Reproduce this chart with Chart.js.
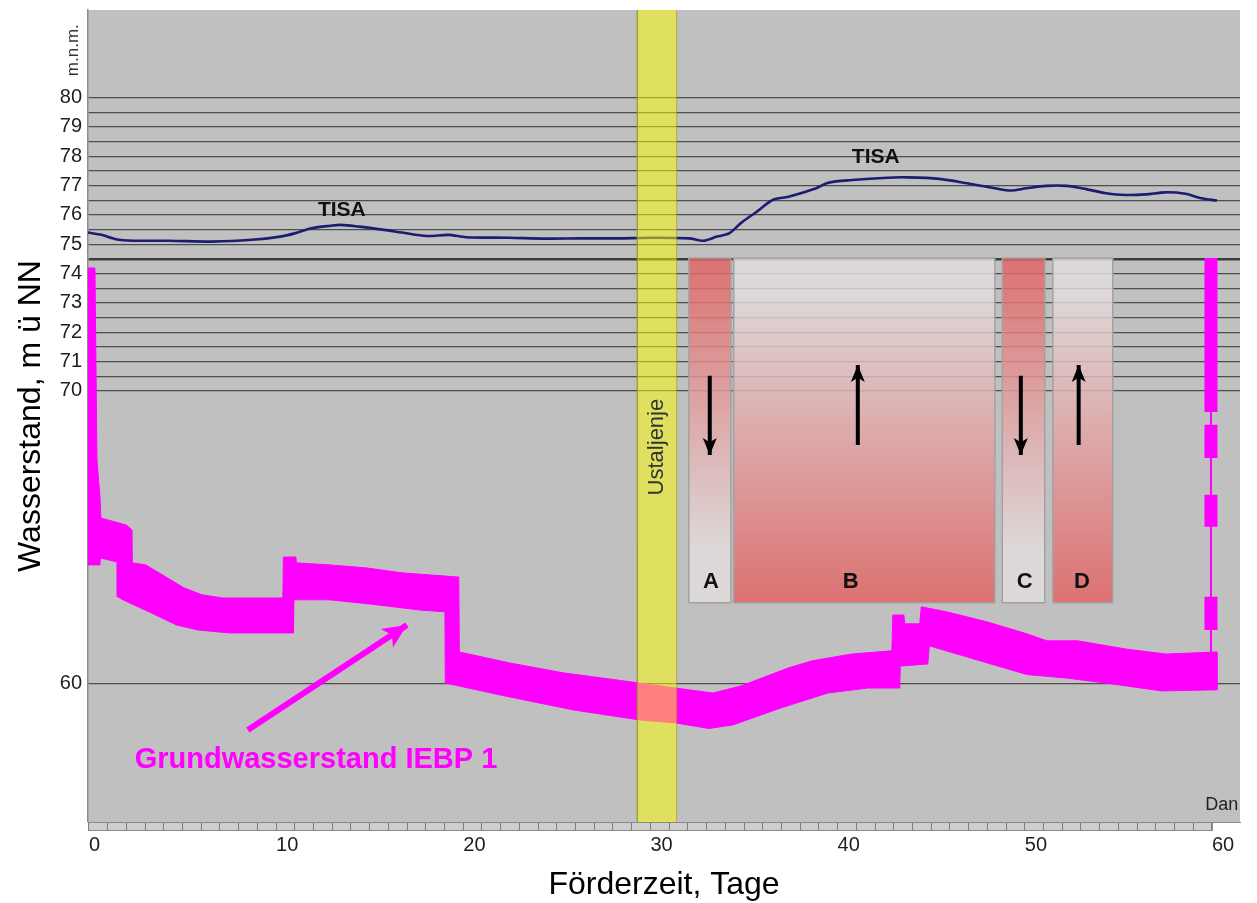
<!DOCTYPE html>
<html>
<head>
<meta charset="utf-8">
<script src="https://cdn.jsdelivr.net/npm/chart.js@4"></script>
<style>
  body { margin: 0; background: #fff; }
  #wrap { width: 1257px; height: 903px; position: relative; }
</style>
</head>
<body>
<div id="wrap"><canvas id="chart"></canvas></div>
<script>
const FONT = "'Liberation Sans', Arial, sans-serif"
Chart.defaults.font.family = FONT

// Tisa river level, m a.s.l., by day
const tisaDays = [-0.06, 0.67, 1.43, 2.39, 4.29, 6.59, 8.69, 10.22, 10.99, 11.94, 12.90, 13.47, 14.42, 15.76, 16.72, 18.05, 19.20, 20.16, 22.45, 24.36, 26.28, 28.19, 30.17, 32.08, 32.82, 33.56, 34.20, 34.83, 35.68, 36.53, 37.38, 38.86, 39.50, 40.77, 42.68, 43.74, 45.43, 46.92, 48.40, 49.25, 50.10, 51.16, 52.22, 53.28, 54.33, 55.40, 56.46, 57.52, 58.58, 59.42, 60.27]
const tisaLevel = [75.40, 75.32, 75.17, 75.12, 75.12, 75.09, 75.15, 75.26, 75.37, 75.55, 75.63, 75.66, 75.60, 75.49, 75.40, 75.28, 75.32, 75.24, 75.22, 75.19, 75.20, 75.20, 75.22, 75.20, 75.12, 75.26, 75.37, 75.72, 76.11, 76.51, 76.62, 76.91, 77.10, 77.19, 77.27, 77.28, 77.23, 77.08, 76.91, 76.83, 76.91, 76.99, 76.99, 76.88, 76.74, 76.68, 76.70, 76.77, 76.72, 76.57, 76.49]

// groundwater IEBP 1 - the logger trace is drawn as a band, upper and lower edge
const gwUpperDays = [-0.05, 0.32, 0.43, 0.59, 0.64, 2.0, 2.30, 2.32, 3.04, 5.07, 6.04, 7.16, 10.36, 10.39, 11.06, 11.08, 12.87, 14.80, 16.72, 19.66, 19.76, 19.79, 22.44, 25.32, 29.43, 31.34, 33.33, 34.83, 37.39, 38.65, 40.76, 42.90, 42.95, 43.54, 43.59, 44.39, 44.47, 45.83, 47.97, 50.11, 51.18, 52.83, 55.40, 57.53, 60.26]
const gwUpperLevel = [74.19, 74.19, 67.64, 66.38, 65.66, 65.42, 65.25, 64.13, 64.06, 63.28, 63.04, 62.93, 62.93, 64.33, 64.33, 64.13, 64.06, 63.96, 63.79, 63.65, 63.65, 61.09, 60.72, 60.38, 60.03, 59.86, 59.69, 59.93, 60.55, 60.79, 61.02, 61.13, 62.35, 62.35, 62.05, 62.05, 62.63, 62.46, 62.12, 61.71, 61.47, 61.47, 61.19, 61.02, 61.09]
const gwLowerDays = [-0.05, 0.59, 0.61, 1.50, 1.55, 1.82, 3.34, 4.68, 5.82, 7.53, 10.93, 10.95, 12.87, 15.38, 17.68, 19.02, 19.04, 22.44, 25.91, 29.43, 31.34, 33.12, 34.40, 36.97, 39.48, 41.61, 43.32, 43.35, 44.82, 44.90, 47.97, 50.11, 52.22, 54.33, 57.32, 60.26]
const gwLowerLevel = [64.06, 64.06, 64.30, 64.16, 62.97, 62.87, 62.42, 62.01, 61.84, 61.74, 61.74, 62.87, 62.87, 62.70, 62.52, 62.46, 60.03, 59.56, 59.11, 58.77, 58.67, 58.48, 58.60, 59.18, 59.69, 59.86, 59.86, 60.61, 60.68, 61.30, 60.72, 60.32, 60.20, 60.03, 59.76, 59.80]

// recovery at the end of pumping (thick pieces + thin line)
const recoveryDay = 59.95
const recoveryPieces = [[74.53, 69.28], [68.84, 67.71], [66.45, 65.36], [62.97, 61.84], [61.09, 59.80]]
const recoveryLine = [59.80, 69.28]

// steady state period (Ustaljenje)
const steadyDays = [29.3, 31.4]

// phases A-D
const phaseNames = ['A', 'B', 'C', 'D']
const phaseStart = [32.05, 34.45, 48.8, 51.5]
const phaseEnd = [34.3, 48.4, 51.07, 54.7]
const phaseRange = [62.77, 74.53]
const phaseRising = [false, true, false, true]
const phaseArrowDay = [33.17, 41.08, 49.79, 52.88]
const arrowDown = [70.51, 67.81]
const arrowUp = [68.15, 70.88]

// axes
const yLabels = [60, 70, 71, 72, 73, 74, 75, 76, 77, 78, 79, 80]
const yGridLevels = [60, 70, 70.5, 71, 71.5, 72, 72.5, 73, 73.5, 74, 74.5, 75, 75.5, 76, 76.5, 77, 77.5, 78, 78.5, 79, 79.5, 80]
const dayTicks = Array.from({length: 61}, (_, i) => i)

// text notes: [text, day, level]
const notes = [
    ['TISA', 13.51, 76.17, 'bold 21px', '#111', 0],
    ['TISA', 42.04, 77.98, 'bold 21px', '#111', 0],
    ['Ustaljenje', 30.34, 68.08, '22px', '#333', -90],
    ['A', 33.23, 63.48, 'bold 22px', '#111', 0],
    ['B', 40.7, 63.48, 'bold 22px', '#111', 0],
    ['C', 50.0, 63.48, 'bold 22px', '#111', 0],
    ['D', 53.05, 63.48, 'bold 22px', '#111', 0],
    ['Grundwasserstand IEBP 1', 12.13, 57.41, 'bold 29px', '#ff00ff', 0],
    ['Dan', 60.52, 55.87, '18px', '#222', 0],
    ['m.n.m.', -0.85, 81.62, '17px', '#333', -90],
]
const gwArrow = [[8.49, 58.43], [16.99, 62.01]]

function pts(xs, ys){
    return xs.map((x, i) => ({x: x, y: ys[i]}))
}

function rect(x0, x1, y0, y1){
    return [{x: x0, y: y0}, {x: x1, y: y0}, {x: x1, y: y1}, {x: x0, y: y1}, {x: x0, y: y0}]
}

function phaseGradient(rising){
    return (context) => {
        const chart = context.chart
        if (!chart.chartArea) return 'rgba(225,95,95,0.8)'
        const y = chart.scales.y
        const g = chart.ctx.createLinearGradient(0, y.getPixelForValue(phaseRange[1]), 0, y.getPixelForValue(phaseRange[0]))
        const red = 'rgba(226,96,96,0.82)'
        const light = 'rgba(228,222,222,0.82)'
        if (rising) {
            g.addColorStop(0, light)
            g.addColorStop(0.1, light)
            g.addColorStop(1, red)
        } else {
            g.addColorStop(0, red)
            g.addColorStop(0.85, light)
            g.addColorStop(1, light)
        }
        return g
    }
}

const datasets = []

// yellow steady period band
datasets.push({
    data: rect(steadyDays[0], steadyDays[1], 40, 90),
    fill: 'shape', backgroundColor: 'rgba(255,255,0,0.5)',
    borderColor: 'rgba(150,150,40,0.6)', borderWidth: 1, order: 1
})
// arrow to the groundwater trace
datasets.push({
    data: pts(gwArrow.map(p => p[0]), gwArrow.map(p => p[1])),
    borderColor: '#ff00ff', borderWidth: 6, borderCapStyle: 'butt',
    arrowHead: {length: 24, width: 22}, order: 1
})
// phase boxes with arrows
phaseNames.forEach((name, i) => {
    datasets.push({
        data: rect(phaseStart[i], phaseEnd[i], phaseRange[0], phaseRange[1]),
        fill: 'shape', backgroundColor: phaseGradient(phaseRising[i]),
        borderColor: '#a2a2a2', borderWidth: 1.5, order: 3
    })
    const a = phaseRising[i] ? arrowUp : arrowDown
    datasets.push({
        data: [{x: phaseArrowDay[i], y: a[0]}, {x: phaseArrowDay[i], y: a[1]}],
        borderColor: '#000', borderWidth: 4, borderCapStyle: 'butt',
        arrowHead: {length: 17, width: 14}, order: 2
    })
})
// recovery line + thick pieces
datasets.push({
    data: [{x: recoveryDay, y: recoveryLine[0]}, {x: recoveryDay, y: recoveryLine[1]}],
    borderColor: '#ff00ff', borderWidth: 2, order: 4
})
const pieces = []
recoveryPieces.forEach(p => {
    pieces.push({x: recoveryDay, y: p[0]}, {x: recoveryDay, y: p[1]}, {x: recoveryDay, y: null})
})
datasets.push({
    data: pieces, borderColor: '#ff00ff', borderWidth: 13,
    borderCapStyle: 'butt', spanGaps: false, order: 4
})
// groundwater band
datasets.push({
    data: pts(gwUpperDays, gwUpperLevel).concat(pts(gwLowerDays, gwLowerLevel).reverse()),
    fill: 'shape', backgroundColor: '#ff00ff', borderColor: '#ff00ff',
    borderWidth: 1, order: 5
})
// Tisa
datasets.push({
    data: pts(tisaDays, tisaLevel),
    borderColor: '#1c1c72', borderWidth: 2.6, tension: 0.3, order: 6
})

const background_plugin = {
    id: 'background_plugin',
    beforeDraw(chart){
        const {ctx, chartArea: a, scales: {x}} = chart
        ctx.save()
        ctx.fillStyle = '#c0c0c0'
        ctx.fillRect(a.left, a.top, a.right - a.left, a.bottom - a.top)
        const end = x.getPixelForValue(60)
        ctx.fillStyle = '#cfcfcf'
        ctx.fillRect(a.left, a.bottom, end - a.left, 8)
        ctx.strokeStyle = '#8a8a8a'
        ctx.lineWidth = 1
        ctx.strokeRect(a.left + 0.5, a.bottom + 0.5, end - a.left, 8)
        ctx.restore()
    }
}

const arrow_plugin = {
    id: 'arrow_plugin',
    afterDatasetsDraw(chart){
        const ctx = chart.ctx
        chart.data.datasets.forEach((ds, i) => {
            if (!ds.arrowHead) return
            const els = chart.getDatasetMeta(i).data
            const tip = els[els.length - 1]
            const prev = els[els.length - 2]
            const ang = Math.atan2(tip.y - prev.y, tip.x - prev.x)
            const {length, width} = ds.arrowHead
            ctx.save()
            ctx.translate(tip.x, tip.y)
            ctx.rotate(ang)
            ctx.fillStyle = ds.borderColor
            ctx.beginPath()
            ctx.moveTo(0, 0)
            ctx.lineTo(-length, width / 2)
            ctx.lineTo(-length * 0.75, 0)
            ctx.lineTo(-length, -width / 2)
            ctx.closePath()
            ctx.fill()
            ctx.restore()
        })
    }
}

const notes_plugin = {
    id: 'notes_plugin',
    afterDatasetsDraw(chart){
        const {ctx, scales: {x, y}} = chart
        for (const [text, day, level, font, color, rot] of notes) {
            ctx.save()
            ctx.translate(x.getPixelForValue(day), y.getPixelForValue(level))
            ctx.rotate(rot * Math.PI / 180)
            ctx.font = `${font} ${FONT}`
            ctx.fillStyle = color
            ctx.textAlign = 'center'
            ctx.textBaseline = 'middle'
            ctx.fillText(text, 0, 0)
            ctx.restore()
        }
    }
}

new Chart(document.getElementById('chart'), {
    type: 'line',
    data: {datasets: datasets},
    plugins: [background_plugin, arrow_plugin, notes_plugin],
    options: {
        responsive: true,
        maintainAspectRatio: false,
        animation: false,
        layout: {padding: {top: 10, right: 17, left: 0, bottom: 0}},
        elements: {point: {radius: 0}, line: {fill: false}},
        plugins: {legend: {display: false}, tooltip: {enabled: false}},
        scales: {
            x: {
                type: 'linear', min: -0.05, max: 61.5,
                afterFit(s){
                    s.height = 81
                    s.paddingLeft = 0
                    s.paddingRight = 0
                },
                afterBuildTicks(s){ s.ticks = dayTicks.map(v => ({value: v})) },
                ticks: {
                    callback: v => v % 10 === 0 ? String(v) : '',
                    align: 'start', autoSkip: false, maxRotation: 0,
                    font: {size: 20}, color: '#1e1e1e', padding: 3
                },
                grid: {drawOnChartArea: false, drawTicks: true, tickLength: 8, color: '#7c7c7c'},
                border: {display: true, color: '#8a8a8a'},
                title: {
                    display: true, text: 'Förderzeit, Tage', color: '#000',
                    font: {size: 32, lineHeight: 1.1}, padding: 0
                }
            },
            y: {
                min: 55.29, max: 82.99,
                afterFit(s){
                    s.width = 88
                    s.paddingTop = 0
                    s.paddingBottom = 0
                },
                afterBuildTicks(s){ s.ticks = yGridLevels.map(v => ({value: v})) },
                ticks: {
                    callback: v => yLabels.includes(v) ? String(v) : '',
                    autoSkip: false, font: {size: 20}, color: '#1e1e1e', padding: 6
                },
                grid: {
                    drawTicks: false,
                    color: c => c.tick && c.tick.value === 74.5 ? '#3c3c3c' : '#4e4e4e',
                    lineWidth: c => c.tick && c.tick.value === 74.5 ? 2.5 : 1.2
                },
                border: {display: true, color: '#8c8c8c', width: 1.5},
                title: {
                    display: true, text: 'Wasserstand, m ü NN', color: '#000',
                    font: {size: 32}, padding: {top: 12, bottom: 0}
                }
            }
        }
    }
})
</script>
</body>
</html>
